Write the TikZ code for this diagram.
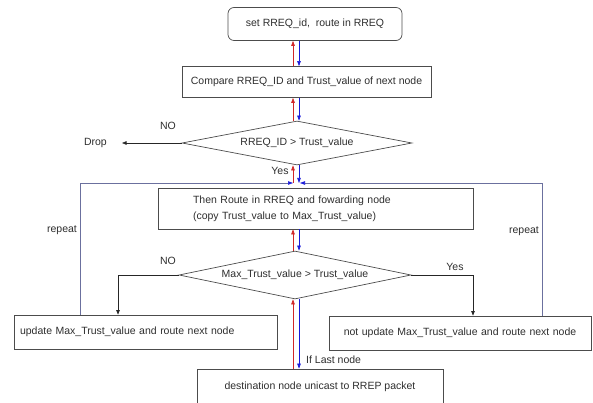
\documentclass[tikz,border=0pt]{standalone}
\usepackage{fontspec}
\setmainfont{Liberation Sans}
\usetikzlibrary{shapes.geometric,arrows.meta,calc}
\definecolor{boxline}{rgb}{0.3,0.3,0.3}
\definecolor{inktext}{rgb}{0.18,0.18,0.18}
\definecolor{uparrow}{rgb}{0.82,0.15,0.15}
\definecolor{downarrow}{rgb}{0.1,0.1,0.85}
\definecolor{loopline}{rgb}{0.42,0.44,0.62}
\begin{document}
\begin{tikzpicture}[x=1pt,y=-1pt,
  font=\fontsize{10.5}{12.5}\selectfont, text=inktext,
  box/.style={draw=boxline, line width=0.7pt, rectangle, inner sep=0pt},
  decision/.style={draw=boxline, line width=0.7pt, diamond, aspect=5.2, inner sep=0pt},
  flow/.style={draw=black!85, line width=0.6pt, -{Triangle[length=4.5pt,width=3.5pt]}},
  upflow/.style={draw=uparrow, line width=0.6pt, -{Triangle[length=5pt,width=3.5pt]}},
  downflow/.style={draw=downarrow, line width=0.6pt, -{Triangle[length=5pt,width=3.5pt]}},
  loopflow/.style={draw=loopline, line width=0.6pt, -{Triangle[length=5pt,width=3.5pt,color=downarrow]}},
  lbl/.style={inner sep=0pt}]
\useasboundingbox (0,0) rectangle (593,403);

% columns used by the vertical connectors
\coordinate (cr) at (293,0);
\coordinate (cb) at (299,0);
\coordinate (cl) at (80,0);
\coordinate (crr) at (542,0);
\coordinate (cno) at (118,0);
\coordinate (cyes) at (473,0);
% ends of the repeat loop
\coordinate (jl) at (293,183);
\coordinate (jr) at (300,183);

% boxes and decisions
\node[box, rounded corners=6pt, minimum width=174pt, minimum height=33pt] (start) at (315,24) {set RREQ\_id,\ \ route in RREQ};
\node[box, minimum width=249pt, minimum height=31pt] (cmp) at (306.5,82) {Compare RREQ\_ID and Trust\_value of next node};
\node[decision, minimum width=230pt, minimum height=44pt] (dec1) at (297,143) {RREQ\_ID > Trust\_value};
\node[box, text width=245pt, inner xsep=35pt, minimum height=41pt, align=left,
      font=\fontsize{10.5}{16}\selectfont] (route) at (315.5,208.5)
  {Then Route in RREQ and fowarding node\\(copy Trust\_value to Max\_Trust\_value)};
\node[decision, minimum width=232pt, minimum height=48pt] (dec2) at (295,275) {Max\_Trust\_value > Trust\_value};
\node[box, text width=251pt, inner xsep=6pt, align=left, minimum height=34pt] (upd) at (145.5,332) {update Max\_Trust\_value and route next node};
\node[box, text width=252pt, inner xsep=5pt, align=center, minimum height=34pt] (nupd) at (460,333) {not update Max\_Trust\_value and route next node};
\node[box, minimum width=246pt, minimum height=35pt] (dest) at (320,386.5) {destination node unicast to RREP packet};

% labels
\node[lbl, anchor=east] (drop) at (107,143) {Drop};
\node[lbl] (no1) at (168,126) {NO};
\node[lbl] (yes1) at (280,171) {Yes};
\node[lbl] (no2) at (168,261) {NO};
\node[lbl] (yes2) at (455,267) {Yes};
\node[lbl] (rep1) at (62,230) {repeat};
\node[lbl] (rep2) at (524,231) {repeat};
\node[lbl, anchor=west] (last) at (306,360) {If Last node};

% request / reply pairs
\draw[upflow]   (cmp.north -| cr) -- (start.south -| cr);
\draw[downflow] (start.south -| cb) -- (cmp.north -| cb);
\draw[upflow]   (dec1.north -| cr) -- (cmp.south -| cr);
\draw[downflow] (cmp.south -| cb) -- (dec1.north -| cb);
\draw[upflow]   (jl) -- (dec1.south -| cr);
\draw[downflow] (dec1.south -| cb) -- (cb |- jl);
\draw[upflow]   (dec2.north -| cr) -- (route.south -| cr);
\draw[downflow] (route.south -| cb) -- (dec2.north -| cb);
\draw[upflow]   (dest.north -| cr) -- (dec2.south -| cr);
\draw[downflow] (dec2.south -| cb) -- (dest.north -| cb);

% branches
\draw[flow] (dec1.west) -- ([xshift=15pt]drop.east);
\draw[flow] (dec2.west) -| (upd.north -| cno);
\draw[flow] (dec2.east) -| (nupd.north -| cyes);

% repeat loop
\draw[loopflow] (upd.north -| cl) |- (jl);
\draw[loopflow] (nupd.north -| crr) |- (jr);
\end{tikzpicture}
\end{document}
